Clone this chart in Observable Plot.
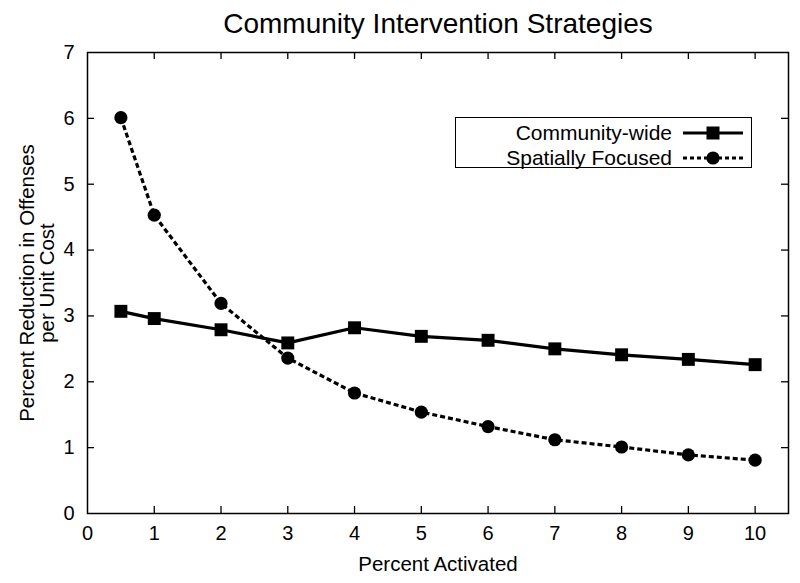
<!DOCTYPE html>
<html>
<head>
<meta charset="utf-8">
<script src="https://cdn.jsdelivr.net/npm/d3@7"></script>
<script src="https://cdn.jsdelivr.net/npm/@observablehq/plot@0.6"></script>
<style>
  html, body { margin: 0; padding: 0; background: #fff; }
  #wrap { position: relative; width: 800px; height: 583px; font-family: "Liberation Sans", Arial, sans-serif; }
  #legend { position: absolute; left: 455px; top: 117px; width: 297px; height: 51px; border: 1.3px solid #000; background: #fff; box-sizing: border-box; }
  .lrow { position: absolute; right: 8px; height: 26px; display: flex; align-items: center; font-size: 21px; color: #000; }
  .lrow span { margin-right: 11px; }
  .lrow svg { display: block; }
</style>
</head>
<body>
<div id="wrap"></div>
<script>
const title = "Community Intervention Strategies";
const xLabel = "Percent Activated";
const yLabelLines = ["Percent Reduction in Offenses", "per Unit Cost"];
const seriesNames = ["Community-wide", "Spatially Focused"];
const percentActivated = [0.5, 1, 2, 3, 4, 5, 6, 7, 8, 9, 10];
const communityWide = [3.07, 2.96, 2.79, 2.59, 2.82, 2.69, 2.63, 2.50, 2.41, 2.34, 2.26];
const spatiallyFocused = [6.01, 4.53, 3.19, 2.36, 1.83, 1.54, 1.32, 1.12, 1.01, 0.89, 0.81];
const xTicks = [0, 1, 2, 3, 4, 5, 6, 7, 8, 9, 10];
const yTicks = [0, 1, 2, 3, 4, 5, 6, 7];

const cw = percentActivated.map((x, i) => ({x, y: communityWide[i]}));
const sf = percentActivated.map((x, i) => ({x, y: spatiallyFocused[i]}));

const W = 800, H = 583, mT = 52, mB = 70, mL = 87, mR = 12;
const ph = H - mT - mB, pw = W - mL - mR;
const tk = 7;

const chart = Plot.plot({
  width: W, height: H,
  marginTop: mT, marginBottom: mB, marginLeft: mL, marginRight: mR,
  style: {fontFamily: "Liberation Sans, Arial, sans-serif", fontSize: "20px", color: "#000", background: "#fff"},
  x: {domain: [0, 10.5]},
  y: {domain: [0, 7]},
  marks: [
    // inward ticks (bottom / top / left / right)
    Plot.ruleX(xTicks.slice(1), {x: d => d, insetTop: ph - tk, stroke: "#000", strokeWidth: 1.3}),
    Plot.ruleX(xTicks.slice(1), {x: d => d, insetBottom: ph - tk, stroke: "#000", strokeWidth: 1.3}),
    Plot.ruleY(yTicks.slice(1, -1), {y: d => d, insetRight: pw - tk, stroke: "#000", strokeWidth: 1.3}),
    Plot.ruleY(yTicks.slice(1, -1), {y: d => d, insetLeft: pw - tk, stroke: "#000", strokeWidth: 1.3}),
    Plot.axisX({ticks: xTicks, tickSize: 0, tickPadding: 12, label: null, fontSize: 20, tickFormat: d3.format("d")}),
    Plot.axisY({ticks: yTicks, tickSize: 0, tickPadding: 13, label: null, fontSize: 20, tickFormat: d3.format("d")}),
    Plot.frame({stroke: "#000", strokeWidth: 1.5}),
    Plot.line(sf, {x: "x", y: "y", stroke: "#000", strokeWidth: 3.2, strokeDasharray: "5,3", strokeLinecap: "butt", strokeLinejoin: "miter"}),
    Plot.line(cw, {x: "x", y: "y", stroke: "#000", strokeWidth: 3.2}),
    Plot.dot(cw, {x: "x", y: "y", symbol: "square", r: 7.3, fill: "#000", stroke: null}),
    Plot.dot(sf, {x: "x", y: "y", symbol: "circle", r: 6.6, fill: "#000", stroke: null}),
    Plot.text([title], {frameAnchor: "top", dy: -39, fontSize: 28, text: d => d, fill: "#000"}),
    Plot.text([xLabel], {frameAnchor: "bottom", dy: 57, fontSize: 20.5, text: d => d, fill: "#000"}),
    Plot.text([yLabelLines.join("\n")], {frameAnchor: "left", dx: -50, rotate: -90, textAnchor: "middle", fontSize: 20.5, text: d => d, fill: "#000", lineHeight: 1.0})
  ]
});
const wrap = document.getElementById("wrap");
wrap.appendChild(chart);

// legend overlay
const legend = document.createElement("div");
legend.id = "legend";
const samples = [
  {name: seriesNames[0], dash: null, sym: "square"},
  {name: seriesNames[1], dash: "4,3", sym: "circle"}
];
samples.forEach((s, i) => {
  const row = document.createElement("div");
  row.className = "lrow";
  row.style.top = (i === 0 ? 2 : 27) + "px";
  const span = document.createElement("span");
  span.textContent = s.name;
  row.appendChild(span);
  const svg = d3.create("svg").attr("width", 60).attr("height", 20);
  svg.append("line").attr("x1", 0).attr("x2", 60).attr("y1", 10).attr("y2", 10)
    .attr("stroke", "#000").attr("stroke-width", 3.2).attr("stroke-dasharray", s.dash);
  if (s.sym === "square") svg.append("rect").attr("x", 23.5).attr("y", 3.5).attr("width", 13).attr("height", 13).attr("fill", "#000");
  else svg.append("circle").attr("cx", 30).attr("cy", 10).attr("r", 6.6).attr("fill", "#000");
  row.appendChild(svg.node());
  legend.appendChild(row);
});
wrap.appendChild(legend);
</script>
</body>
</html>
